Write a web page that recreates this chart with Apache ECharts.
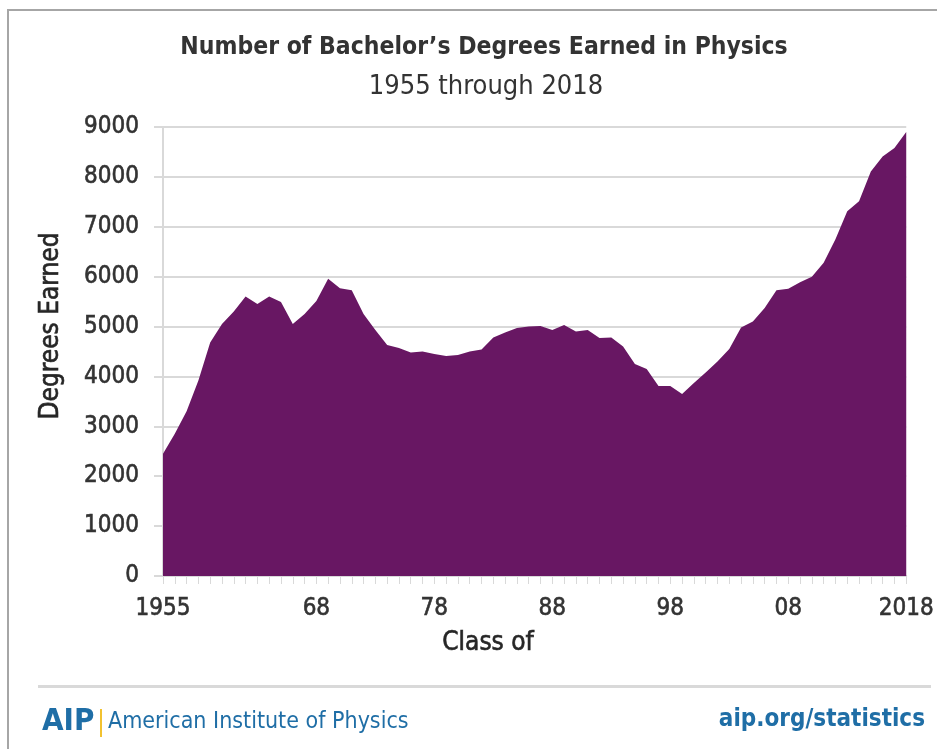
<!DOCTYPE html>
<html>
<head>
<meta charset="utf-8">
<title>Bachelor's Degrees in Physics</title>
<script src="https://cdn.jsdelivr.net/npm/echarts@6/dist/echarts.min.js"></script>
<style>
    html, body { margin: 0; padding: 0; background: #fff; }
    #main { width: 937px; height: 749px; }
</style>
</head>
<body>
<div id="main"></div>
<script>
// 年份
var years = [];
for (var y = 1955; y <= 2018; y++) {
    years.push(String(y));
}

// 学位数量 (1955 - 2018)
var degreeCounts = [
    2450, 2850, 3300, 3920, 4680, 5050, 5300, 5600, 5450, 5600,
    5490, 5050, 5250, 5510, 5960, 5770, 5730, 5250, 4930, 4630,
    4570, 4480, 4500, 4450, 4410, 4430, 4500, 4540, 4780, 4880,
    4970, 5000, 5010, 4930, 5030, 4900, 4930, 4770, 4780, 4600,
    4250, 4150, 3810, 3810, 3650, 3870, 4080, 4300, 4550, 4980,
    5100, 5370, 5730, 5760, 5890, 6000, 6280, 6750, 7310, 7510,
    8110, 8410, 8580, 8900
];

// 显示标签的位置
var labelIndex = [0, 13, 23, 33, 43, 53, 63];

var fontName = '"DejaVu Sans Condensed", "Liberation Sans Narrow", sans-serif';
var textColor = '#333333';
var gridColor = '#d9d9d9';
var aipBlue = '#1f6ea6';

function setChartData(years, degreeCounts) {
    var myChart = echarts.init(document.getElementById('main'));
    var option = {
        animation: false,
        grid: {
            left: 163,
            right: 30,
            top: 127,
            bottom: 173
        },
        xAxis: {
            type: 'category',
            boundaryGap: false,
            data: years,
            axisLine: {
                lineStyle: {color: gridColor, width: 2}
            },
            axisTick: {
                interval: 0,
                length: 8,
                lineStyle: {color: gridColor, width: 1}
            },
            axisLabel: {
                interval: function (index) {
                    return labelIndex.indexOf(index) >= 0;
                },
                margin: 21,
                fontFamily: fontName,
                fontSize: 24,
                color: textColor,
                textBorderColor: textColor,
                textBorderWidth: 0.6,
                formatter: function (value, index) {
                    if (index === 0 || index === years.length - 1) {
                        return value;
                    }
                    return value.substring(2);
                }
            },
            splitLine: {show: false}
        },
        yAxis: {
            type: 'value',
            min: 0,
            max: 9000,
            interval: 1000,
            axisLine: {
                show: true,
                lineStyle: {color: gridColor, width: 2}
            },
            axisTick: {
                show: true,
                length: 9,
                lineStyle: {color: gridColor, width: 2}
            },
            axisLabel: {
                margin: 24,
                fontFamily: fontName,
                fontSize: 24,
                color: textColor,
                textBorderColor: textColor,
                textBorderWidth: 0.6,
                formatter: function (value) {
                    return String(value);
                }
            },
            splitLine: {
                lineStyle: {color: gridColor, width: 2}
            }
        },
        series: [
            {
                name: 'Degrees',
                type: 'line',
                data: degreeCounts,
                symbol: 'none',
                lineStyle: {width: 0},
                areaStyle: {color: '#681763', opacity: 1}
            }
        ],
        graphic: [
            // 外边框
            {
                type: 'rect',
                shape: {x: 8, y: 10, width: 940, height: 750},
                style: {fill: 'none', stroke: '#a6a6a6', lineWidth: 2}
            },
            // 标题
            {
                type: 'text',
                x: 484, y: 48,
                style: {
                    text: 'Number of Bachelor\u2019s Degrees Earned in Physics',
                    font: 'bold 24.5px ' + fontName,
                    fill: '#333333',
                    align: 'center',
                    verticalAlign: 'middle'
                }
            },
            {
                type: 'text',
                x: 486, y: 87,
                style: {
                    text: '1955 through 2018',
                    font: '27px ' + fontName,
                    fill: '#333333',
                    align: 'center',
                    verticalAlign: 'middle'
                }
            },
            // Y轴名称
            {
                type: 'text',
                x: 51, y: 326,
                rotation: Math.PI / 2,
                style: {
                    text: 'Degrees Earned',
                    font: '26px ' + fontName,
                    fill: '#262626',
                    stroke: '#262626',
                    lineWidth: 0.6,
                    align: 'center',
                    verticalAlign: 'middle'
                }
            },
            // X轴名称
            {
                type: 'text',
                x: 488, y: 643,
                style: {
                    text: 'Class of',
                    font: '26px ' + fontName,
                    fill: '#262626',
                    stroke: '#262626',
                    lineWidth: 0.6,
                    align: 'center',
                    verticalAlign: 'middle'
                }
            },
            // 分隔线
            {
                type: 'rect',
                shape: {x: 38, y: 685, width: 893, height: 3},
                style: {fill: '#d9d9d9'}
            },
            // AIP 标志
            {
                type: 'text',
                x: 42, y: 722,
                style: {
                    text: 'AIP',
                    font: 'bold 31px ' + fontName,
                    fill: aipBlue,
                    align: 'left',
                    verticalAlign: 'middle'
                }
            },
            {
                type: 'rect',
                shape: {x: 100, y: 709, width: 2, height: 28},
                style: {fill: '#f2c230'}
            },
            {
                type: 'text',
                x: 108, y: 722,
                style: {
                    text: 'American Institute of Physics',
                    font: '23px ' + fontName,
                    fill: aipBlue,
                    align: 'left',
                    verticalAlign: 'middle'
                }
            },
            {
                type: 'text',
                x: 925, y: 720,
                style: {
                    text: 'aip.org/statistics',
                    font: 'bold 24px ' + fontName,
                    fill: aipBlue,
                    align: 'right',
                    verticalAlign: 'middle'
                }
            }
        ]
    };
    myChart.setOption(option);
}

setChartData(years, degreeCounts);
</script>
</body>
</html>
